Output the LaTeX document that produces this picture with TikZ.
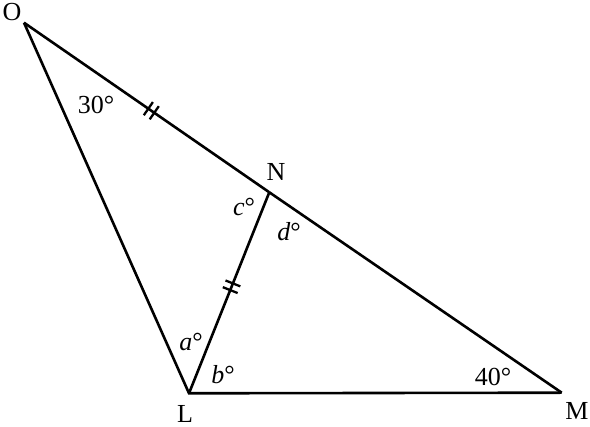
\documentclass[tikz,border=0pt]{standalone}
\usepackage{fontspec}
\setmainfont{Liberation Serif}
\usetikzlibrary{decorations.markings}
\tikzset{
  edge/.style={line width=2.6pt, line join=miter},
  lbl/.style={font=\fontsize{26}{30}\selectfont, inner sep=0pt},
  ticks/.style={postaction={decorate}, decoration={markings,
    mark=at position #1 with {\draw[line width=2.3pt] (-3.6,-8)--(-3.6,8) (3.6,-8)--(3.6,8);}}}
}
\begin{document}
\begin{tikzpicture}[x=1pt,y=-1pt]
\useasboundingbox (0,0) rectangle (590,427);
\coordinate (O) at (24,22.7);
\coordinate (N) at (269.3,192.3);
\coordinate (L) at (189,393.3);
\coordinate (M) at (561.7,392.7);
\draw[edge] (O) -- (L) -- (M);
\draw[edge] (M) -- (N);
\draw[edge, ticks=0.519] (O) -- (N);
\draw[edge, ticks=0.47] (N) -- (L);
\node[lbl] (lO) at (12,12) {O};
\node[lbl] (lN) at (276,172) {N};
\node[lbl] (lL) at (185,414) {L};
\node[lbl] (lM) at (577,411) {M};
\node[lbl] (t30) at (96,105) {30°};
\node[lbl] (tc) at (244,207) {\textit{c}°};
\node[lbl] (td) at (289,232) {\textit{d}°};
\node[lbl] (ta) at (191,342) {\textit{a}°};
\node[lbl] (tb) at (223,375) {\textit{b}°};
\node[lbl] (t40) at (493,377) {40°};
\end{tikzpicture}
\end{document}
